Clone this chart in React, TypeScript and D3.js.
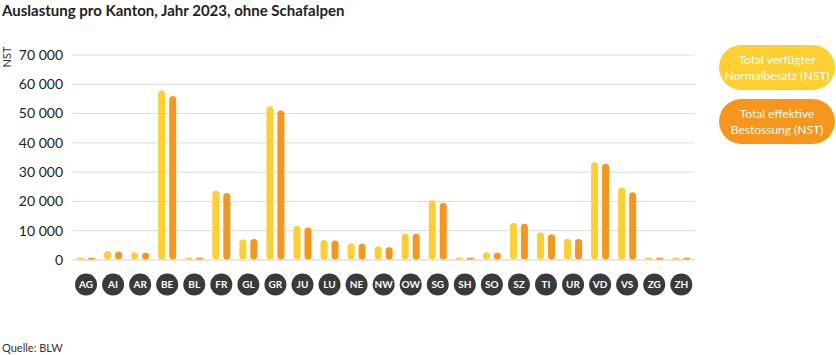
import React from "react";
import * as d3 from "d3";

const cantons = ["AG","AI","AR","BE","BL","FR","GL","GR","JU","LU","NE","NW","OW","SG","SH","SO","SZ","TI","UR","VD","VS","ZG","ZH"];
const normalbesatz = [600,2900,2500,57700,600,23500,6900,52300,11500,6700,5500,4500,8900,20200,600,2500,12500,9300,7100,33200,24600,600,600];
const bestossung = [600,2700,2300,55800,600,22700,7000,50900,10900,6500,5400,4200,8800,19400,600,2300,12200,8600,7000,32700,23000,600,600];
const yTicks = [0,10000,20000,30000,40000,50000,60000,70000];
const seriesNames = ["Total verfügter|Normalbesatz (NST)", "Total effektive|Bestossung (NST)"];
const colors = ["#fdcf30", "#f7961c"];

const W = 836, H = 355;
const FONT = "Lato, 'Noto Sans', sans-serif";

export default function App() {
  const x = d3.scaleBand<string>().domain(cantons).range([72.5, 694.8]).padding(0);
  const y = d3.scaleLinear().domain([0, 70000]).range([260, 55]);
  const sub = d3.scalePoint<number>().domain([0, 1]).range([-5.5, 5.5]);
  const barW = 7;
  const fmt = (v: number) => d3.format(",")(v).replace(/,/g, " ");
  const series = [normalbesatz, bestossung];

  return (
    <svg width={W} height={H} style={{ position: "absolute", left: 0, top: 0, background: "#fff" }} fontFamily={FONT}>
      <text x={2} y={16} fontSize={15} fontWeight={700} fill="#222">Auslastung pro Kanton, Jahr 2023, ohne Schafalpen</text>
      <text transform={`translate(11,57) rotate(-90)`} textAnchor="middle" fontSize={11} fill="#333">NST</text>
      {yTicks.map((t) => (
        <g key={t}>
          <line x1={72.5} x2={694.8} y1={y(t)} y2={y(t)} stroke={t === 0 ? "#cfcfcf" : "#dcdcdc"} strokeWidth={1} />
          <text x={63} y={y(t)} dy="0.35em" textAnchor="end" fontSize={14} fill="#222" style={{ whiteSpace: "pre" }}>{fmt(t)}</text>
        </g>
      ))}
      {cantons.map((c, i) => {
        const cx = (x(c) as number) + x.bandwidth() / 2;
        return (
          <g key={c}>
            {series.map((s, k) => {
              const v = s[i];
              const top = y(v);
              const h = Math.max(1.5, y(0) - top);
              const r = Math.min(barW / 2, h / 2);
              return (
                <rect key={k} x={cx + (sub(k) as number) - barW / 2} y={y(0) - h - 0.5} width={barW} height={h} rx={r} ry={r} fill={colors[k]} />
              );
            })}
            <circle cx={cx} cy={284.5} r={11} fill="#3a3a3a" />
            <text x={cx} y={284.5} dy="0.36em" textAnchor="middle" fontSize={10} fontWeight={700} fill="#fff">{c}</text>
          </g>
        );
      })}
      {seriesNames.map((n, k) => {
        const top = k === 0 ? 45 : 99;
        const lines = n.split("|");
        return (
          <g key={k}>
            <rect x={719} y={top} width={116} height={45} rx={22.5} ry={22.5} fill={colors[k]} />
            {lines.map((l, j) => (
              <text key={j} x={777} y={top + 14.5 + j * 16} dy="0.35em" textAnchor="middle" fontSize={12} fill="#fff">{l}</text>
            ))}
          </g>
        );
      })}
      <text x={2} y={352} fontSize={11} fill="#333">Quelle: BLW</text>
    </svg>
  );
}
